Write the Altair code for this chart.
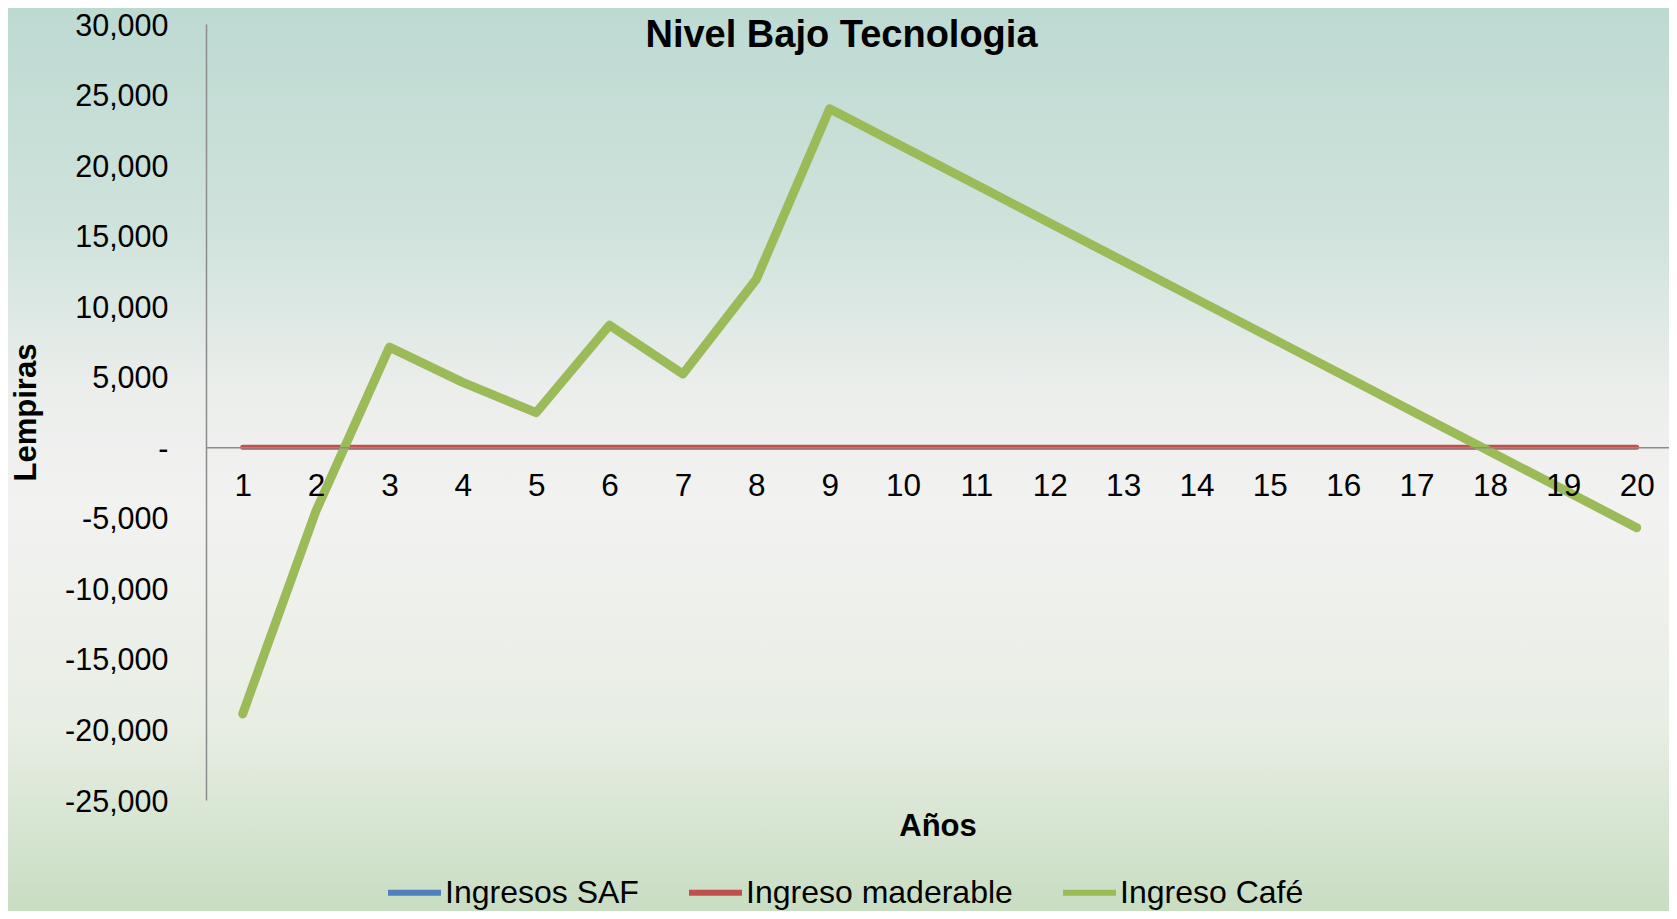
import altair as alt
import pandas as pd

# ---- data ----
years = list(range(1, 21))
ingreso_cafe = [-18900, -4500, 7100, 4600, 2450, 8650, 5200, 11900, 24000, 21300,
                18600, 15900, 13200, 10500, 7800, 5100, 2400, -300, -3000, -5700]
ingreso_maderable = [0] * 20
ingresos_saf = [-18900, -4500, 7100, 4600, 2450, 8650, 5200, 11900, 24000, 21300,
                18600, 15900, 13200, 10500, 7800, 5100, 2400, -300, -3000, -5700]

series_names = ["Ingresos SAF", "Ingreso maderable", "Ingreso Café"]
series_colors = ["#4F81BD", "#C0504D", "#9BBB59"]
series_widths = [5, 5, 9]
y_ticks = list(range(-25000, 30001, 5000))

rows = []
for name, vals in zip(series_names, [ingresos_saf, ingreso_maderable, ingreso_cafe]):
    for yr, v in zip(years, vals):
        rows.append({"serie": name, "year": yr, "value": v})
df = pd.DataFrame(rows)

W, H = 1463, 776
FONT = "Liberation Sans"

color_scale = alt.Scale(domain=series_names, range=series_colors)

x_enc = alt.X(
    "year:Q",
    scale=alt.Scale(domain=[0.5, 20.44], nice=False, zero=False),
    axis=alt.Axis(
        values=years, title="Años", offset=-(H * 25000 / 55000), zindex=1,
        ticks=False, grid=False, domainColor="#8c8c8c", domainWidth=1.5,
        labelFontSize=31.5, labelFont=FONT, labelColor="black", labelPadding=23.5,
        labelFlush=False, labelOverlap=False, labelBaseline="top",
        titleFontSize=31, titleFont=FONT, titleFontWeight="bold", titleColor="black",
        titleY=379, titleBaseline="middle",
    ),
)
y_enc = alt.Y(
    "value:Q",
    scale=alt.Scale(domain=[-25000, 30000], nice=False, zero=False),
    axis=alt.Axis(
        values=y_ticks, title="Lempiras", ticks=False, grid=False, zindex=1,
        domainColor="#8c8c8c", domainWidth=1.5,
        labelFontSize=30.5, labelFont=FONT, labelColor="black", labelPadding=38,
        labelOffset=2, labelFlush=False,
        labelExpr="datum.value == 0 ? '-\u00a0\u00a0' : replace(format(datum.value, ','), '\u2212', '-')",
        labelOverlap=False,
        titleFontSize=31, titleFont=FONT, titleFontWeight="bold", titleColor="black",
        titleX=-180, titleY=H / 2, titleAngle=270, titleBaseline="middle", titleAlign="center",
    ),
)

legend = alt.Legend(
    title=None, orient="none", legendX=179, legendY=839, direction="horizontal",
    symbolType="stroke", symbolSize=2809, symbolStrokeWidth=6,
    labelFontSize=32, labelFont=FONT, labelColor="black", labelOffset=1, labelLimit=0,
    columnPadding=38, padding=0, zindex=1,
)

bg = alt.Chart(pd.DataFrame({"a": [0]})).mark_rect(
    fill=alt.LinearGradient(
        gradient="linear", x1=0, y1=0, x2=0, y2=1,
        stops=[
            alt.GradientStop(color="#bddad2", offset=0),
            alt.GradientStop(color="#d0e3dc", offset=0.25),
            alt.GradientStop(color="#eceeec", offset=0.42),
            alt.GradientStop(color="#f2f2f1", offset=0.55),
            alt.GradientStop(color="#e8eee4", offset=0.78),
            alt.GradientStop(color="#c6dcc0", offset=1),
        ],
    )
).encode(x=alt.value(-198), x2=alt.value(1480), y=alt.value(-16), y2=alt.value(900))

layers = [bg]
for name, sw in zip(series_names, series_widths):
    layers.append(
        alt.Chart(df).transform_filter(alt.datum.serie == name)
        .mark_line(strokeWidth=sw, strokeCap="round", strokeJoin="round")
        .encode(x=x_enc, y=y_enc,
                color=alt.Color("serie:N", scale=color_scale, legend=legend))
    )

chart = alt.layer(*layers).properties(
    width=W, height=H,
    title=alt.TitleParams(
        "Nivel Bajo Tecnologia", fontSize=38, font=FONT, fontWeight="bold", color="black",
        anchor="middle", frame="group", dx=-96, baseline="middle", offset=0, dy=66,
        zindex=1,
    ),
    autosize=alt.AutoSizeParams(type="none"),
    padding={"left": 198, "top": 16, "right": 0, "bottom": 111},
).configure(background="#e9eee8").configure_view(stroke=None)

chart.save("out.html", embed_options={"renderer": "svg", "actions": False})
